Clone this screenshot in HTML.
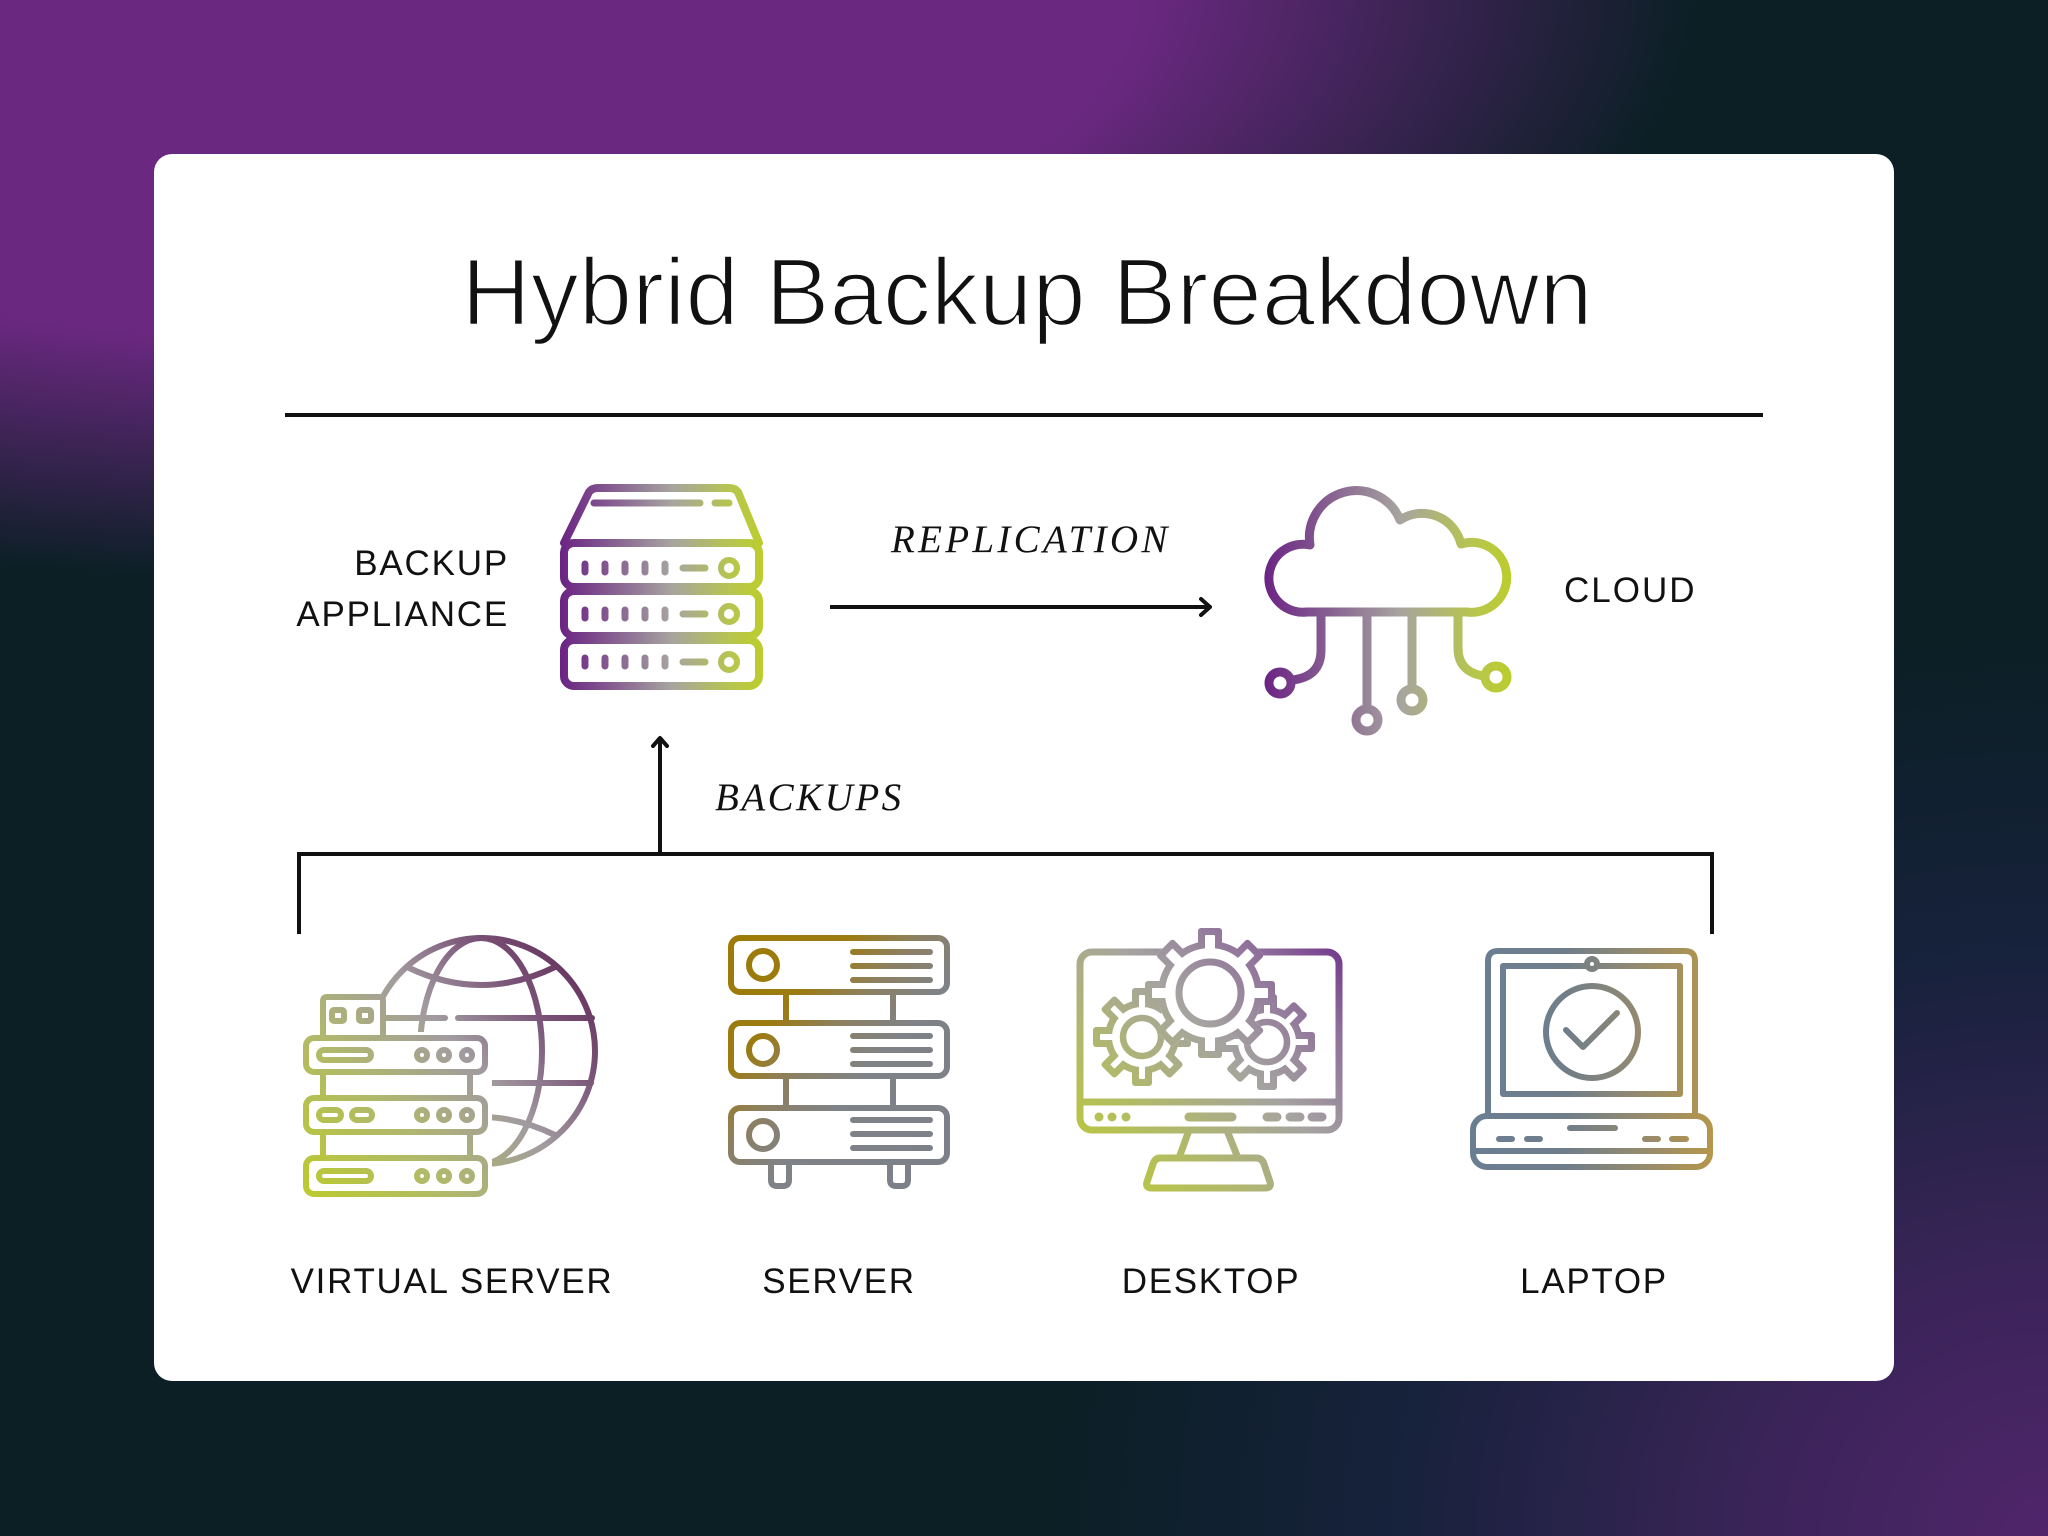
<!DOCTYPE html>
<html>
<head>
<meta charset="utf-8">
<style>
  html,body{margin:0;padding:0;}
  body{
    width:2048px;height:1536px;overflow:hidden;position:relative;
    background:
      radial-gradient(ellipse 1400px 600px at 300px -20px, #6b2880 0%, #6a2880 60%, rgba(106,40,128,0) 100%),
      radial-gradient(ellipse 1000px 900px at 2048px 1536px, #50256b 0%, #3a2458 30%, rgba(24,34,62,0.9) 65%, rgba(11,31,37,0) 100%),
      #0b1f25;
  }
  .card{position:absolute;left:154px;top:154px;width:1740px;height:1227px;background:#fff;border-radius:18px;}
  svg{position:absolute;left:0;top:0;}
  .sans{font-family:"Liberation Sans",Arial,sans-serif;fill:#111;}
  .serif{font-family:"Liberation Serif","Times New Roman",serif;font-style:italic;fill:#111;}
</style>
</head>
<body>
<div class="card"></div>
<svg width="2048" height="1536" viewBox="0 0 2048 1536" xmlns="http://www.w3.org/2000/svg">
  <defs>
    <linearGradient id="gAppl" gradientUnits="userSpaceOnUse" x1="560" y1="0" x2="763" y2="0">
      <stop offset="0" stop-color="#6b2283"/>
      <stop offset="0.3" stop-color="#8a6893"/>
      <stop offset="0.55" stop-color="#a7a49f"/>
      <stop offset="0.85" stop-color="#b7c64c"/>
      <stop offset="1" stop-color="#bccd2c"/>
    </linearGradient>
    <linearGradient id="gCloud" gradientUnits="userSpaceOnUse" x1="1263" y1="0" x2="1512" y2="0">
      <stop offset="0" stop-color="#6b2283"/>
      <stop offset="0.3" stop-color="#8a6893"/>
      <stop offset="0.55" stop-color="#a7a49f"/>
      <stop offset="0.85" stop-color="#b7c64c"/>
      <stop offset="1" stop-color="#bccd2c"/>
    </linearGradient>
    <linearGradient id="gVs" gradientUnits="userSpaceOnUse" x1="300" y1="1195" x2="600" y2="935">
      <stop offset="0" stop-color="#bccb2c"/>
      <stop offset="0.3" stop-color="#b0b86c"/>
      <stop offset="0.55" stop-color="#a19aa0"/>
      <stop offset="0.75" stop-color="#7a5478"/>
      <stop offset="1" stop-color="#5a1f4e"/>
    </linearGradient>
    <linearGradient id="gSrv" gradientUnits="userSpaceOnUse" x1="728" y1="960" x2="950" y2="1160">
      <stop offset="0" stop-color="#9c7b08"/>
      <stop offset="0.25" stop-color="#9c7b12"/>
      <stop offset="0.42" stop-color="#8c8062"/>
      <stop offset="0.6" stop-color="#7f8287"/>
      <stop offset="1" stop-color="#7c8088"/>
    </linearGradient>
    <linearGradient id="gDesk" gradientUnits="userSpaceOnUse" x1="1077" y1="1190" x2="1342" y2="927">
      <stop offset="0" stop-color="#bccc2c"/>
      <stop offset="0.25" stop-color="#b3bc62"/>
      <stop offset="0.55" stop-color="#a5a3a0"/>
      <stop offset="0.8" stop-color="#8e6e9a"/>
      <stop offset="1" stop-color="#6b2a88"/>
    </linearGradient>
    <linearGradient id="gLap" gradientUnits="userSpaceOnUse" x1="1470" y1="0" x2="1713" y2="0">
      <stop offset="0" stop-color="#6a7e93"/>
      <stop offset="0.4" stop-color="#707e8a"/>
      <stop offset="0.75" stop-color="#9a8c6a"/>
      <stop offset="1" stop-color="#b5964a"/>
    </linearGradient>

    <!-- gear silhouettes -->
    <g id="bigS">
      <circle cx="1210" cy="993" r="52"/>
      <rect x="1198" y="928" width="24" height="17" rx="3"/>
      <rect x="1198" y="928" width="24" height="17" rx="3" transform="rotate(45 1210 993)"/>
      <rect x="1198" y="928" width="24" height="17" rx="3" transform="rotate(90 1210 993)"/>
      <rect x="1198" y="928" width="24" height="17" rx="3" transform="rotate(135 1210 993)"/>
      <rect x="1198" y="928" width="24" height="17" rx="3" transform="rotate(180 1210 993)"/>
      <rect x="1198" y="928" width="24" height="17" rx="3" transform="rotate(225 1210 993)"/>
      <rect x="1198" y="928" width="24" height="17" rx="3" transform="rotate(270 1210 993)"/>
      <rect x="1198" y="928" width="24" height="17" rx="3" transform="rotate(315 1210 993)"/>
    </g>
    <g id="bigI">
      <circle cx="1210" cy="993" r="45"/>
      <rect x="1205" y="935" width="10" height="17" rx="1"/>
      <rect x="1205" y="935" width="10" height="17" rx="1" transform="rotate(45 1210 993)"/>
      <rect x="1205" y="935" width="10" height="17" rx="1" transform="rotate(90 1210 993)"/>
      <rect x="1205" y="935" width="10" height="17" rx="1" transform="rotate(135 1210 993)"/>
      <rect x="1205" y="935" width="10" height="17" rx="1" transform="rotate(180 1210 993)"/>
      <rect x="1205" y="935" width="10" height="17" rx="1" transform="rotate(225 1210 993)"/>
      <rect x="1205" y="935" width="10" height="17" rx="1" transform="rotate(270 1210 993)"/>
      <rect x="1205" y="935" width="10" height="17" rx="1" transform="rotate(315 1210 993)"/>
    </g>
    <g id="leftS">
      <circle cx="1142" cy="1037" r="37"/>
      <rect x="1132" y="988" width="20" height="16" rx="3"/>
      <rect x="1132" y="988" width="20" height="16" rx="3" transform="rotate(45 1142 1037)"/>
      <rect x="1132" y="988" width="20" height="16" rx="3" transform="rotate(90 1142 1037)"/>
      <rect x="1132" y="988" width="20" height="16" rx="3" transform="rotate(135 1142 1037)"/>
      <rect x="1132" y="988" width="20" height="16" rx="3" transform="rotate(180 1142 1037)"/>
      <rect x="1132" y="988" width="20" height="16" rx="3" transform="rotate(225 1142 1037)"/>
      <rect x="1132" y="988" width="20" height="16" rx="3" transform="rotate(270 1142 1037)"/>
      <rect x="1132" y="988" width="20" height="16" rx="3" transform="rotate(315 1142 1037)"/>
    </g>
    <g id="leftI">
      <circle cx="1142" cy="1037" r="30"/>
      <rect x="1139" y="995" width="6" height="16" rx="1"/>
      <rect x="1139" y="995" width="6" height="16" rx="1" transform="rotate(45 1142 1037)"/>
      <rect x="1139" y="995" width="6" height="16" rx="1" transform="rotate(90 1142 1037)"/>
      <rect x="1139" y="995" width="6" height="16" rx="1" transform="rotate(135 1142 1037)"/>
      <rect x="1139" y="995" width="6" height="16" rx="1" transform="rotate(180 1142 1037)"/>
      <rect x="1139" y="995" width="6" height="16" rx="1" transform="rotate(225 1142 1037)"/>
      <rect x="1139" y="995" width="6" height="16" rx="1" transform="rotate(270 1142 1037)"/>
      <rect x="1139" y="995" width="6" height="16" rx="1" transform="rotate(315 1142 1037)"/>
    </g>
    <g id="rightS">
      <circle cx="1267" cy="1042" r="36"/>
      <rect x="1257" y="994" width="20" height="16" rx="3"/>
      <rect x="1257" y="994" width="20" height="16" rx="3" transform="rotate(45 1267 1042)"/>
      <rect x="1257" y="994" width="20" height="16" rx="3" transform="rotate(90 1267 1042)"/>
      <rect x="1257" y="994" width="20" height="16" rx="3" transform="rotate(135 1267 1042)"/>
      <rect x="1257" y="994" width="20" height="16" rx="3" transform="rotate(180 1267 1042)"/>
      <rect x="1257" y="994" width="20" height="16" rx="3" transform="rotate(225 1267 1042)"/>
      <rect x="1257" y="994" width="20" height="16" rx="3" transform="rotate(270 1267 1042)"/>
      <rect x="1257" y="994" width="20" height="16" rx="3" transform="rotate(315 1267 1042)"/>
    </g>
    <g id="rightI">
      <circle cx="1267" cy="1042" r="29"/>
      <rect x="1264" y="1001" width="6" height="16" rx="1"/>
      <rect x="1264" y="1001" width="6" height="16" rx="1" transform="rotate(45 1267 1042)"/>
      <rect x="1264" y="1001" width="6" height="16" rx="1" transform="rotate(90 1267 1042)"/>
      <rect x="1264" y="1001" width="6" height="16" rx="1" transform="rotate(135 1267 1042)"/>
      <rect x="1264" y="1001" width="6" height="16" rx="1" transform="rotate(180 1267 1042)"/>
      <rect x="1264" y="1001" width="6" height="16" rx="1" transform="rotate(225 1267 1042)"/>
      <rect x="1264" y="1001" width="6" height="16" rx="1" transform="rotate(270 1267 1042)"/>
      <rect x="1264" y="1001" width="6" height="16" rx="1" transform="rotate(315 1267 1042)"/>
    </g>
    <mask id="mkBig" maskUnits="userSpaceOnUse" x="0" y="0" width="2048" height="1536">
      <use href="#bigS" fill="white"/><use href="#bigI" fill="black"/>
    </mask>
    <mask id="mkLeft" maskUnits="userSpaceOnUse" x="0" y="0" width="2048" height="1536">
      <use href="#leftS" fill="white"/><use href="#leftI" fill="black"/>
    </mask>
    <mask id="mkRight" maskUnits="userSpaceOnUse" x="0" y="0" width="2048" height="1536">
      <use href="#rightS" fill="white"/><use href="#rightI" fill="black"/>
    </mask>
  </defs>

  <!-- Title -->
  <text class="sans" x="1027" y="325" font-size="96" text-anchor="middle" stroke="#fff" stroke-width="2.4">Hybrid Backup Breakdown</text>
  <line x1="285" y1="415" x2="1763" y2="415" stroke="#111" stroke-width="4"/>

  <!-- Backup appliance label -->
  <text class="sans" x="509" y="575" font-size="35" letter-spacing="1.8" text-anchor="end">BACKUP</text>
  <text class="sans" x="509" y="626" font-size="35" letter-spacing="1.8" text-anchor="end">APPLIANCE</text>

  <!-- Backup appliance icon -->
  <g fill="none" stroke="url(#gAppl)" stroke-width="8" stroke-linecap="round" stroke-linejoin="round">
    <path d="M564,543 L589,492 Q592,488 598,488 H729 Q735,488 738,492 L759,543"/>
    <rect x="564" y="543" width="195" height="44" rx="10" fill="#fff"/>
    <rect x="564" y="591" width="195" height="45" rx="10" fill="#fff"/>
    <rect x="564" y="640" width="195" height="46" rx="10" fill="#fff"/>
    <g stroke-width="7">
      <path d="M594,503 H700 M715,503 H729"/>
      <path d="M585,564 V572 M605,564 V572 M625,564 V572 M645,564 V572 M665,564 V572 M683,568 H705"/>
      <path d="M585,610 V618 M605,610 V618 M625,610 V618 M645,610 V618 M665,610 V618 M683,614 H705"/>
      <path d="M585,658 V666 M605,658 V666 M625,658 V666 M645,658 V666 M665,658 V666 M683,662 H705"/>
    </g>
    <circle cx="729" cy="568" r="8" stroke-width="6"/>
    <circle cx="729" cy="614" r="8" stroke-width="6"/>
    <circle cx="729" cy="662" r="8" stroke-width="6"/>
  </g>

  <!-- Replication arrow -->
  <text class="serif" x="891" y="552" font-size="39" letter-spacing="3.3">REPLICATION</text>
  <line x1="830" y1="607" x2="1209" y2="607" stroke="#111" stroke-width="4"/>
  <path d="M1201,599 L1210,607 L1201,615" fill="none" stroke="#111" stroke-width="4" stroke-linecap="round" stroke-linejoin="round"/>

  <!-- Cloud icon -->
  <g fill="none" stroke="url(#gCloud)" stroke-width="9" stroke-linecap="round" stroke-linejoin="round">
    <path d="M1307,612 A34,34 0 1 1 1310,545 A47,47 0 0 1 1400,520 A40,40 0 0 1 1461,544 A35,35 0 1 1 1467,612 Z"/>
    <path d="M1321,614 V650 Q1321,677 1292,680"/>
    <path d="M1367,614 V708"/>
    <path d="M1412,614 V688"/>
    <path d="M1458,614 V648 Q1458,672 1484,676"/>
    <circle cx="1280" cy="683" r="11" fill="#fff"/>
    <circle cx="1367" cy="720" r="11" fill="#fff"/>
    <circle cx="1412" cy="700" r="11" fill="#fff"/>
    <circle cx="1496" cy="677" r="11" fill="#fff"/>
  </g>
  <text class="sans" x="1564" y="602" font-size="35" letter-spacing="2">CLOUD</text>

  <!-- Backups arrow and bracket -->
  <line x1="660" y1="854" x2="660" y2="740" stroke="#111" stroke-width="4"/>
  <path d="M653,746 L660,738 L667,746" fill="none" stroke="#111" stroke-width="4" stroke-linecap="round" stroke-linejoin="round"/>
  <text class="serif" x="715" y="810" font-size="39" letter-spacing="2.5">BACKUPS</text>
  <path d="M299,934 V854 H1712 V934" fill="none" stroke="#111" stroke-width="4"/>

  <!-- Virtual server icon -->
  <g fill="none" stroke="url(#gVs)" stroke-width="6" stroke-linecap="round" stroke-linejoin="round">
    <circle cx="482" cy="1051" r="113"/>
    <ellipse cx="481" cy="1051" rx="61" ry="113"/>
    <path d="M407,967 Q481,1003 555,967"/>
    <path d="M407,1135 Q481,1099 555,1135"/>
    <path d="M385,1018 H445 M458,1018 H592"/>
    <path d="M487,1083 H591"/>
  </g>
  <rect x="296" y="1032" width="196" height="170" fill="#fff"/>
  <g fill="#fff" stroke="url(#gVs)" stroke-width="6" stroke-linecap="round" stroke-linejoin="round">
    <path d="M323,1038 V1001 Q323,997 327,997 H379 Q383,997 383,1001 V1038 Z"/>
    <rect x="332" y="1010" width="12" height="11" rx="2" fill="none"/>
    <rect x="359" y="1010" width="12" height="11" rx="2" fill="none"/>
    <path d="M323,1072 V1098 M470,1072 V1098 M323,1132 V1158 M470,1132 V1158" fill="none"/>
    <rect x="306" y="1038" width="179" height="34" rx="8"/>
    <rect x="306" y="1098" width="179" height="34" rx="8"/>
    <rect x="306" y="1158" width="179" height="36" rx="8"/>
    <rect x="319" y="1050" width="52" height="10" rx="5" fill="none"/>
    <rect x="319" y="1110" width="22" height="10" rx="5" fill="none"/>
    <rect x="352" y="1110" width="20" height="10" rx="5" fill="none"/>
    <rect x="319" y="1171" width="52" height="10" rx="5" fill="none"/>
    <circle cx="422" cy="1055" r="5" fill="none"/><circle cx="444" cy="1055" r="5" fill="none"/><circle cx="467" cy="1055" r="5" fill="none"/>
    <circle cx="422" cy="1115" r="5" fill="none"/><circle cx="444" cy="1115" r="5" fill="none"/><circle cx="467" cy="1115" r="5" fill="none"/>
    <circle cx="422" cy="1176" r="5" fill="none"/><circle cx="444" cy="1176" r="5" fill="none"/><circle cx="467" cy="1176" r="5" fill="none"/>
  </g>

  <!-- Server icon -->
  <g fill="none" stroke="url(#gSrv)" stroke-width="6" stroke-linecap="round" stroke-linejoin="round">
    <path d="M786,992 V1023 M893,992 V1023 M786,1076 V1108 M893,1076 V1108"/>
    <path d="M771,1162 V1180 Q771,1186 777,1186 H783 Q789,1186 789,1180 V1162"/>
    <path d="M890,1162 V1180 Q890,1186 896,1186 H902 Q908,1186 908,1180 V1162"/>
    <rect x="731" y="938" width="216" height="54" rx="9"/>
    <rect x="731" y="1023" width="216" height="53" rx="9"/>
    <rect x="731" y="1108" width="216" height="54" rx="9"/>
    <circle cx="763" cy="965" r="14"/>
    <circle cx="763" cy="1050" r="14"/>
    <circle cx="763" cy="1135" r="14"/>
    <path d="M853,952 H930 M853,966 H930 M853,980 H930"/>
    <path d="M853,1036 H930 M853,1050 H930 M853,1064 H930"/>
    <path d="M853,1120 H930 M853,1134 H930 M853,1148 H930"/>
  </g>

  <!-- Desktop icon -->
  <g fill="none" stroke="url(#gDesk)" stroke-width="7" stroke-linecap="round" stroke-linejoin="round">
    <rect x="1080" y="952" width="259" height="178" rx="12" fill="#fff"/>
    <path d="M1080,1102 H1339"/>
    <path d="M1189,1117 H1232" stroke-width="9"/>
    <path d="M1267,1117 H1277 M1290,1117 H1300 M1312,1117 H1322" stroke-width="9"/>
    <path d="M1188,1133 L1179,1158 M1228,1133 L1238,1158"/>
    <path d="M1160,1158 H1256 Q1262,1158 1264,1164 L1270,1182 Q1272,1188 1265,1188 H1152 Q1145,1188 1147,1182 L1153,1164 Q1155,1158 1160,1158 Z"/>
  </g>
  <g fill="url(#gDesk)">
    <circle cx="1099" cy="1117" r="4.5"/><circle cx="1112" cy="1117" r="4.5"/><circle cx="1126" cy="1117" r="4.5"/>
  </g>
  <!-- gears -->
  <use href="#leftS" fill="#fff"/>
  <rect x="1080" y="970" width="130" height="140" fill="url(#gDesk)" mask="url(#mkLeft)"/>
  <circle cx="1142" cy="1037" r="19" fill="none" stroke="url(#gDesk)" stroke-width="6.5"/>
  <use href="#rightS" fill="#fff"/>
  <rect x="1200" y="980" width="140" height="130" fill="url(#gDesk)" mask="url(#mkRight)"/>
  <circle cx="1267" cy="1042" r="20" fill="none" stroke="url(#gDesk)" stroke-width="6.5"/>
  <use href="#bigS" fill="#fff"/>
  <rect x="1130" y="915" width="160" height="160" fill="url(#gDesk)" mask="url(#mkBig)"/>
  <circle cx="1210" cy="993" r="31" fill="none" stroke="url(#gDesk)" stroke-width="7"/>

  <!-- Laptop icon -->
  <g fill="none" stroke="url(#gLap)" stroke-width="6" stroke-linecap="round" stroke-linejoin="round">
    <path d="M1488,1113 V961 Q1488,951 1498,951 H1685 Q1695,951 1695,961 V1113"/>
    <rect x="1503" y="966" width="177" height="128"/>
    <circle cx="1592" cy="964" r="5" fill="#fff"/>
    <circle cx="1592" cy="1032" r="46"/>
    <path d="M1566,1030 L1583,1047 L1617,1013"/>
    <rect x="1473" y="1116" width="237" height="51" rx="14" fill="#fff"/>
    <path d="M1476,1151 H1707"/>
    <path d="M1570,1128 H1615"/>
    <path d="M1499,1139 H1512 M1527,1139 H1540 M1645,1139 H1658 M1672,1139 H1686"/>
  </g>

  <!-- Bottom labels -->
  <text class="sans" x="452" y="1293" font-size="35" letter-spacing="1.7" text-anchor="middle">VIRTUAL SERVER</text>
  <text class="sans" x="839" y="1293" font-size="35" letter-spacing="1.7" text-anchor="middle">SERVER</text>
  <text class="sans" x="1211" y="1293" font-size="35" letter-spacing="1.7" text-anchor="middle">DESKTOP</text>
  <text class="sans" x="1594" y="1293" font-size="35" letter-spacing="1.7" text-anchor="middle">LAPTOP</text>
</svg>
</body>
</html>
